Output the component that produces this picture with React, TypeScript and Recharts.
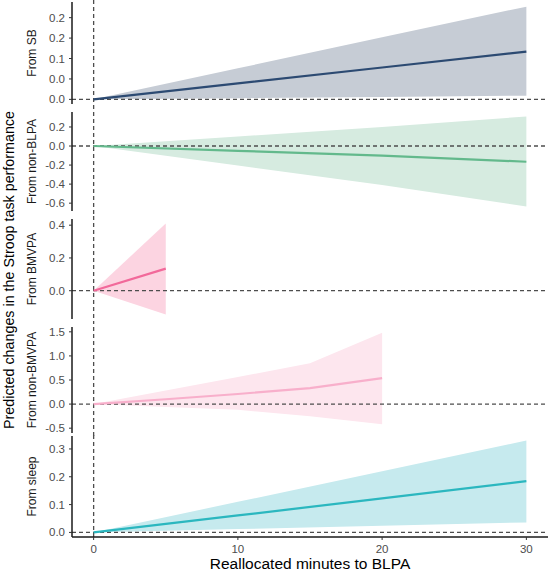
import { ComposedChart, Area, Line, XAxis, YAxis, ReferenceLine, Label } from "recharts"

// minutes reallocated to BLPA
const minutesLong = [0, 10, 20, 30]
const minutesBmvpa = [0, 5]
const minutesNonBmvpa = [0, 5, 10, 15, 20]
const xTicks = [0, 10, 20, 30]

// From SB
const sbEst = [0, 0.039, 0.078, 0.117]
const sbLow = [0, 0.003, 0.006, 0.009]
const sbUp = [0, 0.076, 0.152, 0.227]
const sbTicks = [0, 0.05, 0.1, 0.15, 0.2]
const sbTickLabels = ["0.0", "0.0", "0.1", "0.2", "0.2"]

// From non-BLPA
const nonBlpaEst = [0, -0.05, -0.1, -0.165]
const nonBlpaLow = [0, -0.205, -0.41, -0.635]
const nonBlpaUp = [0, 0.1, 0.2, 0.31]
const nonBlpaTicks = [-0.6, -0.4, -0.2, 0, 0.2]
const nonBlpaTickLabels = ["-0.6", "-0.4", "-0.2", "0.0", "0.2"]

// From BMVPA
const bmvpaEst = [0, 0.135]
const bmvpaLow = [0, -0.145]
const bmvpaUp = [0, 0.41]
const bmvpaTicks = [0, 0.2, 0.4]
const bmvpaTickLabels = ["0.0", "0.2", "0.4"]

// From non-BMVPA
const nonBmvpaEst = [0, 0.1, 0.21, 0.33, 0.54]
const nonBmvpaLow = [0, -0.06, -0.12, -0.25, -0.42]
const nonBmvpaUp = [0, 0.28, 0.56, 0.85, 1.48]
const nonBmvpaTicks = [-0.5, 0, 0.5, 1, 1.5]
const nonBmvpaTickLabels = ["-0.5", "0.0", "0.5", "1.0", "1.5"]
const nonBmvpaDomain = [-0.6, 1.6]

// From sleep
const sleepEst = [0, 0.061, 0.122, 0.184]
const sleepLow = [0, 0.012, 0.024, 0.036]
const sleepUp = [0, 0.11, 0.22, 0.33]
const sleepTicks = [0, 0.1, 0.2, 0.3]
const sleepTickLabels = ["0.0", "0.1", "0.2", "0.3"]

const FONT = "'Liberation Sans', Arial, sans-serif"

function makeRows(xs: number[], est: number[], low: number[], up: number[]) {
  return xs.map((x, i) => ({ x, est: est[i], low: low[i], up: up[i] }))
}

type PanelProps = {
  label: string
  rows: { x: number; est: number; low: number; up: number }[]
  lineColor: string
  bandColor: string
  ticks: number[]
  tickLabels: string[]
  height: number
  top: number
  bottom: number
  domain?: number[]
  last?: boolean
  shiftUp?: number
}

function Panel({ label, rows, lineColor, bandColor, ticks, tickLabels, height, top, bottom, domain, last, shiftUp = 0 }: PanelProps) {
  const vals = rows.flatMap((r) => [r.low, r.up])
  const lo = Math.min(...vals)
  const hi = Math.max(...vals)
  const pad = (hi - lo) * 0.05
  const yDomain = domain ?? [lo - pad, hi + pad]
  const span = yDomain[1] - yDomain[0]

  return (
    <div style={{ marginTop: -shiftUp, height }}>
      <ComposedChart width={551} height={height} data={rows} margin={{ top, right: 3, bottom, left: 0 }}>
        <XAxis
          type="number"
          dataKey="x"
          domain={[-1.5, 31.5]}
          ticks={xTicks}
          hide={!last}
          height={35}
          axisLine={{ stroke: "#1a1a1a", strokeWidth: 1.5 }}
          tickLine={{ stroke: "#333" }}
          tickSize={3}
          tickMargin={5}
          tick={{ fill: "#4d4d4d", fontSize: 11.5, fontFamily: FONT }}
        >
          <Label
            content={(p: any) => {
              const vb = p.viewBox || { x: 72, width: 476, y: 537 }
              return (
                <text x={vb.x + vb.width / 2} y={vb.y + 32} textAnchor="middle" fontSize={15.5} fill="#000" fontFamily={FONT}>
                  Reallocated minutes to BLPA
                </text>
              )
            }}
          />
        </XAxis>
        <YAxis
          type="number"
          domain={yDomain}
          ticks={ticks}
          width={72}
          interval={0}
          tickFormatter={(v: number) => tickLabels[ticks.indexOf(v)]}
          axisLine={{ stroke: "#1a1a1a", strokeWidth: 1.5 }}
          tickLine={{ stroke: "#333" }}
          tickSize={3}
          tickMargin={4}
          tick={{ fill: "#4d4d4d", fontSize: 11.5, fontFamily: FONT }}
        >
          <Label
            content={(p: any) => {
              const vb = p.viewBox || { y: top, height: height - top - bottom }
              const cy = vb.y + vb.height / 2
              return (
                <text x={35.5} y={cy} transform={`rotate(-90 35.5 ${cy})`} textAnchor="middle" fontSize={12} fill="#1a1a1a" fontFamily={FONT}>
                  {label}
                </text>
              )
            }}
          />
        </YAxis>
        <Area
          dataKey={(d: any) => [d.low, d.up]}
          fill={bandColor}
          fillOpacity={1}
          stroke="none"
          isAnimationActive={false}
        />
        <ReferenceLine y={0} stroke="#4d4d4d" strokeWidth={1.3} strokeDasharray="4 3" />
        <ReferenceLine
          segment={[
            { x: 0, y: last ? yDomain[0] : yDomain[0] - 10 * span },
            { x: 0, y: yDomain[1] + 10 * span },
          ]}
          ifOverflow="visible"
          stroke="#4d4d4d"
          strokeWidth={1.3}
          strokeDasharray="4 3"
        />
        <Line dataKey="est" stroke={lineColor} strokeWidth={2.2} dot={false} isAnimationActive={false} />
      </ComposedChart>
    </div>
  )
}

export default function App() {
  return (
    <div style={{ position: "absolute", left: 0, top: 0, width: 551, height: 572, background: "#fff", fontFamily: FONT }}>
      <Panel label="From SB" rows={makeRows(minutesLong, sbEst, sbLow, sbUp)} lineColor="#2c4a72" bandColor="#c6ccd5"
        ticks={sbTicks} tickLabels={sbTickLabels} height={108} top={2} bottom={4} />
      <Panel label="From non-BLPA" rows={makeRows(minutesLong, nonBlpaEst, nonBlpaLow, nonBlpaUp)} lineColor="#63b98c" bandColor="#d6ebe0"
        ticks={nonBlpaTicks} tickLabels={nonBlpaTickLabels} height={107} top={4} bottom={4} />
      <Panel label="From BMVPA" rows={makeRows(minutesBmvpa, bmvpaEst, bmvpaLow, bmvpaUp)} lineColor="#f2699a" bandColor="#fcd4e1"
        ticks={bmvpaTicks} tickLabels={bmvpaTickLabels} height={108} top={4} bottom={4} />
      <Panel label="From non-BMVPA" rows={makeRows(minutesNonBmvpa, nonBmvpaEst, nonBmvpaLow, nonBmvpaUp)} lineColor="#f8afcb" bandColor="#fde6ee"
        ticks={nonBmvpaTicks} tickLabels={nonBmvpaTickLabels} domain={nonBmvpaDomain} height={116} top={4} bottom={6} />
      <Panel label="From sleep" rows={makeRows(minutesLong, sleepEst, sleepLow, sleepUp)} lineColor="#2bb7bf" bandColor="#c6eaee"
        ticks={sleepTicks} tickLabels={sleepTickLabels} height={137} top={1} bottom={0} shiftUp={4} last />
      <svg width={20} height={572} style={{ position: "absolute", left: 0, top: 0 }}>
        <text x={13.5} y={270} transform="rotate(-90 13.5 270)" textAnchor="middle" fontSize={14.3} fill="#000" fontFamily={FONT}>
          Predicted changes in the Stroop task performance
        </text>
      </svg>
    </div>
  )
}
